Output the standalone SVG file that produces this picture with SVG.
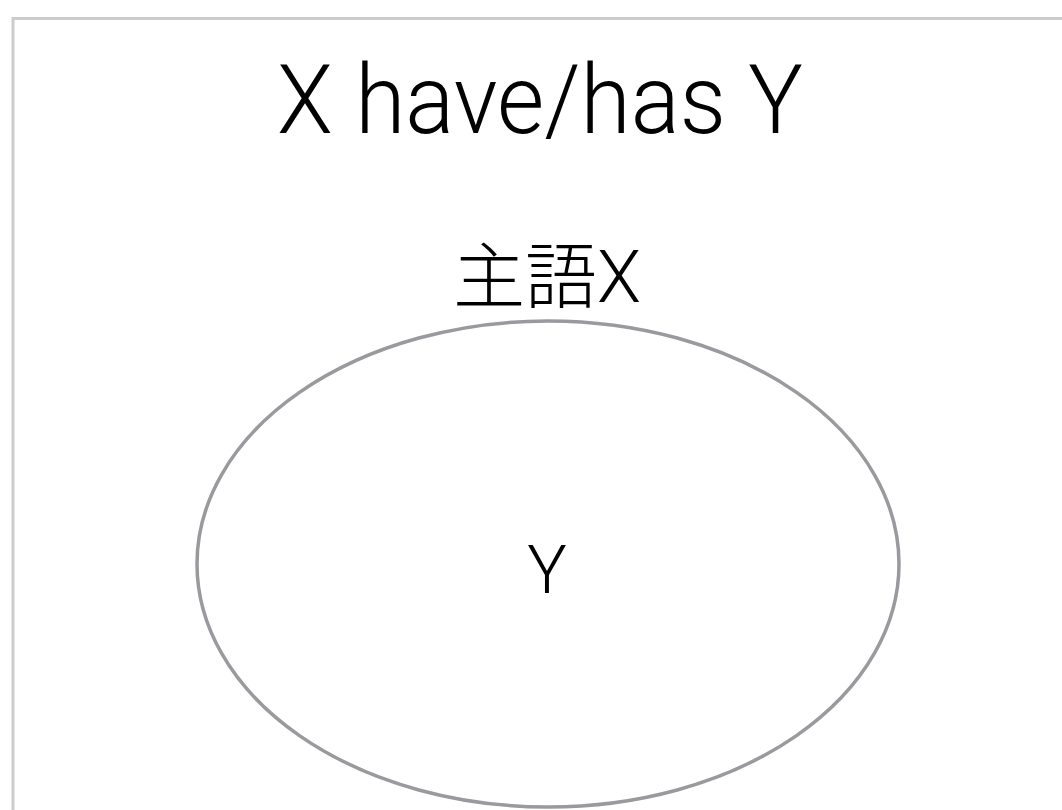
<svg xmlns="http://www.w3.org/2000/svg" width="1062" height="810" viewBox="0 0 1062 810">
  <style>
    .t { font-family: Roboto, "Liberation Sans", "Noto Sans CJK JP", sans-serif; font-weight: 300; fill: #000; text-anchor: middle; }
  </style>
  <rect x="0" y="0" width="1062" height="810" fill="#fff"/>
  <path d="M13 810 V18.5 H1062" fill="none" stroke="#cccccc" stroke-width="3"/>
  <text id="title" class="t" x="540" y="133" font-size="96" textLength="526" lengthAdjust="spacingAndGlyphs">X have/has Y</text>
  <g id="node-x">
    <text class="t" x="547" y="302" font-size="72"><tspan font-family="'Noto Sans CJK JP', sans-serif">主語</tspan>X</text>
    <ellipse cx="548" cy="564" rx="351" ry="243" fill="none" stroke="#9a9a9e" stroke-width="3.5"/>
  </g>
  <g id="node-y">
    <text class="t" x="547" y="593" font-size="66">Y</text>
  </g>
  <g id="connectors"/>
</svg>
